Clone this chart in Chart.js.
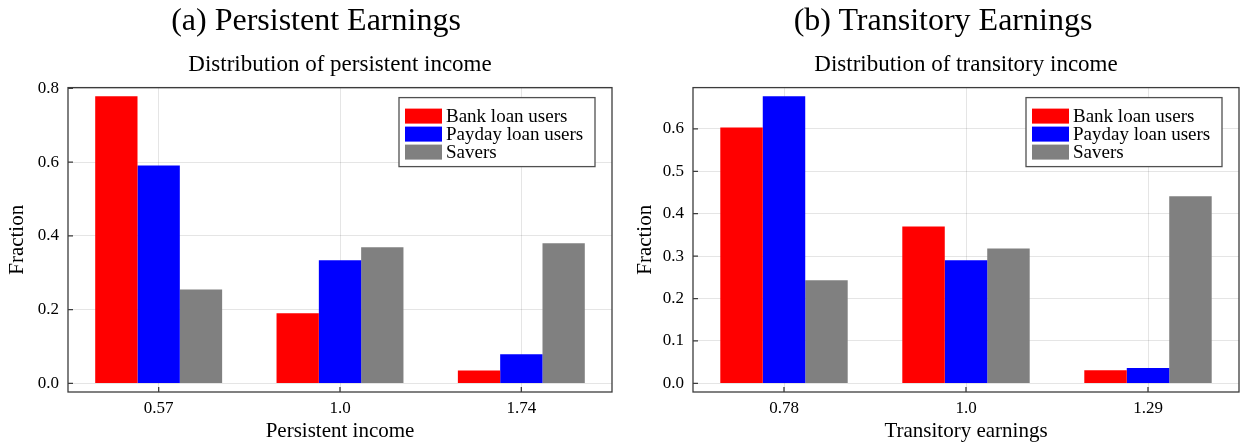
<!DOCTYPE html>
<html>
<head>
<meta charset="utf-8">
<script src="https://cdn.jsdelivr.net/npm/chart.js@4.4.1/dist/chart.umd.min.js"></script>
<style>
  body { margin: 0; background: #fff; }
  #wrap { position: relative; width: 1242px; height: 445px; }
  .panel { position: absolute; top: 0; height: 445px; }
  .caption {
    position: absolute; top: 0; width: 400px; text-align: center;
    font: 32px/38px "Liberation Serif", "Times New Roman", serif; color: #000;
  }
</style>
</head>
<body>
<div id="wrap">
  <div class="panel" style="left:0;width:620px"><canvas id="persistentChart"></canvas></div>
  <div class="panel" style="left:620px;width:622px"><canvas id="transitoryChart"></canvas></div>
  <div class="caption" style="left:116px">(a) Persistent Earnings</div>
  <div class="caption" style="left:743px">(b) Transitory Earnings</div>
</div>
<script>
// Series shared by both panels
const seriesNames = ['Bank loan users', 'Payday loan users', 'Savers'];
const seriesColors = ['#ff0000', '#0000ff', '#808080'];

// (a) Persistent earnings
const persistentCategories = ['0.57', '1.0', '1.74'];
const persistentBank = [0.779, 0.190, 0.035];
const persistentPayday = [0.591, 0.334, 0.079];
const persistentSavers = [0.255, 0.369, 0.380];
const persistentTicks = [0, 0.2, 0.4, 0.6, 0.8];

// (b) Transitory earnings
const transitoryCategories = ['0.78', '1.0', '1.29'];
const transitoryBank = [0.603, 0.370, 0.031];
const transitoryPayday = [0.677, 0.290, 0.036];
const transitorySavers = [0.243, 0.318, 0.441];
const transitoryTicks = [0, 0.1, 0.2, 0.3, 0.4, 0.5, 0.6];

const FONT = '"Liberation Serif", "Times New Roman", serif';
const GRID = 'rgba(0,0,0,0.1)';
const FRAME = '#3c3c3c';

// box frame plus small inward tick marks, like Plots.jl's :box style
const framePlugin = {
  id: 'plotsFrame',
  afterDatasetsDraw(chart) {
    const { ctx, chartArea: a, scales: { x, y } } = chart;
    ctx.save();
    ctx.strokeStyle = FRAME;
    ctx.lineWidth = 1.3;
    ctx.strokeRect(a.left, a.top, a.right - a.left, a.bottom - a.top);
    ctx.beginPath();
    x.ticks.forEach((t, i) => {
      const px = x.getPixelForTick(i);
      ctx.moveTo(px, a.bottom);
      ctx.lineTo(px, a.bottom - 5);
    });
    y.ticks.forEach(t => {
      const py = y.getPixelForValue(t.value);
      ctx.moveTo(a.left, py);
      ctx.lineTo(a.left + 5, py);
    });
    ctx.stroke();
    ctx.restore();
  }
};

// legend box in the top right corner of the plot area
const boxLegendPlugin = {
  id: 'boxLegend',
  afterDraw(chart) {
    const { ctx, chartArea: a } = chart;
    const w = 196, h = 69;
    const x0 = a.right - 17 - w, y0 = a.top + 10;
    ctx.save();
    ctx.fillStyle = '#fff';
    ctx.fillRect(x0, y0, w, h);
    ctx.strokeStyle = '#505050';
    ctx.lineWidth = 1.3;
    ctx.strokeRect(x0, y0, w, h);
    ctx.font = '19px ' + FONT;
    ctx.textBaseline = 'middle';
    chart.data.datasets.forEach((ds, i) => {
      const ry = y0 + 11 + i * 18;
      ctx.fillStyle = ds.backgroundColor;
      ctx.fillRect(x0 + 6, ry, 37, 15);
      ctx.fillStyle = '#000';
      ctx.fillText(ds.label, x0 + 47, ry + 8);
    });
    ctx.restore();
  }
};

function makePanel(id, opts) {
  const values = [opts.bank, opts.payday, opts.savers];
  const top = Math.max(...values.flat());
  new Chart(document.getElementById(id), {
    type: 'bar',
    data: {
      labels: opts.categories,
      datasets: values.map((v, i) => ({
        label: seriesNames[i],
        data: v,
        backgroundColor: seriesColors[i],
        borderWidth: 0,
        barPercentage: 1.0,
        categoryPercentage: 0.7
      }))
    },
    options: {
      responsive: true,
      maintainAspectRatio: false,
      animation: false,
      layout: { padding: { top: 0, left: 0, right: opts.padRight, bottom: 0 } },
      plugins: {
        legend: { display: false },
        tooltip: { enabled: false },
        // the plot's own title, centred over the plot area
        title: {
          display: true,
          text: opts.subtitle,
          color: '#000',
          fullSize: false,
          font: { family: FONT, size: 23, weight: 'normal' },
          padding: { top: 51, bottom: 9 }
        }
      },
      scales: {
        x: {
          type: 'category',
          offset: true,
          grid: { offset: false, color: GRID, drawTicks: false },
          border: { display: false },
          ticks: { color: '#000', font: { family: FONT, size: 17 }, padding: 6 },
          title: {
            display: true,
            text: opts.xTitle,
            color: '#000',
            font: { family: FONT, size: 21 },
            padding: { top: 0, bottom: 1 }
          },
          afterFit: s => { s.height = 53; }
        },
        y: {
          min: -0.03 * top,
          max: 1.03 * top,
          afterBuildTicks: s => { s.ticks = opts.ticks.map(v => ({ value: v })); },
          grid: { color: GRID, drawTicks: false },
          border: { display: false },
          ticks: {
            color: '#000',
            font: { family: FONT, size: 17 },
            padding: 9,
            callback: v => v.toFixed(1)
          },
          title: {
            display: true,
            text: 'Fraction',
            color: '#000',
            font: { family: FONT, size: 21 },
            padding: { top: opts.yTitlePad, bottom: 0 }
          },
          afterFit: s => { s.width = opts.yWidth; }
        }
      }
    },
    plugins: [framePlugin, boxLegendPlugin]
  });
}

makePanel('persistentChart', {
  subtitle: 'Distribution of persistent income',
  xTitle: 'Persistent income',
  categories: persistentCategories,
  bank: persistentBank,
  payday: persistentPayday,
  savers: persistentSavers,
  ticks: persistentTicks,
  yWidth: 68,
  yTitlePad: 5,
  padRight: 8
});

makePanel('transitoryChart', {
  subtitle: 'Distribution of transitory income',
  xTitle: 'Transitory earnings',
  categories: transitoryCategories,
  bank: transitoryBank,
  payday: transitoryPayday,
  savers: transitorySavers,
  ticks: transitoryTicks,
  yWidth: 73,
  yTitlePad: 13,
  padRight: 3
});
</script>
</body>
</html>
